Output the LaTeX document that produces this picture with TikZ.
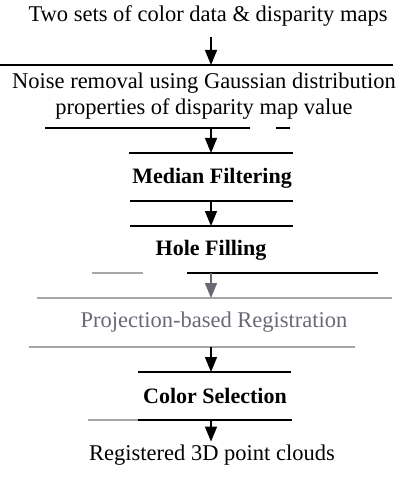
\documentclass[tikz,border=0pt]{standalone}
\usepackage{fontspec}
\setmainfont{Liberation Serif}
\usetikzlibrary{arrows.meta}
\definecolor{scangray}{RGB}{105,105,118}
\definecolor{palegray}{RGB}{165,165,170}
\tikzset{
  steptext/.style={font=\fontsize{22.5}{26}\selectfont, inner sep=0pt, align=center},
  boldtext/.style={steptext, font=\fontsize{22}{26}\selectfont\bfseries},
  rule/.style={line width=1.4pt},
  flow/.style={line width=1.4pt, -{Triangle[width=12pt,length=15pt]}},
}
\begin{document}
\begin{tikzpicture}[x=1pt,y=-1pt]
\useasboundingbox (0,0) rectangle (409,478);

% texts
\node[steptext] (input) at (208,16) {Two sets of color data \& disparity maps};
\node[steptext] (noise) at (204,96) {Noise removal using Gaussian distribution\\properties of disparity map value};
\node[boldtext] (median) at (212,178) {Median Filtering};
\node[boldtext] (hole) at (211,250) {Hole Filling};
\node[steptext,text=scangray] (proj) at (214,322) {Projection-based Registration};
\node[boldtext] (color) at (215,396) {Color Selection};
\node[steptext] (output) at (212,455) {Registered 3D point clouds};

% top and bottom rules of the steps
\coordinate (noiseT) at (211,65);
\coordinate (noiseB) at (211,128);
\coordinate (medianT) at (211,153);
\coordinate (medianB) at (211,201);
\coordinate (holeT) at (211,226);
\coordinate (holeB) at (211,273);
\coordinate (projT) at (211,298);
\coordinate (projB) at (211,347);
\coordinate (colorT) at (211,372);
\coordinate (colorB) at (211,420);

\draw[rule] (0,65) -- (393,65);
\draw[rule] (45,128) -- (250,128);
\draw[rule] (276,128) -- (290,128);
\draw[rule] (129,153) -- (293,153);
\draw[rule] (130,201) -- (293,201);
\draw[rule] (130,226) -- (293,226);
\draw[rule,palegray] (92,273) -- (143,273);
\draw[rule] (187,273) -- (378,273);
\draw[rule,palegray] (37,298) -- (392,298);
\draw[rule,palegray] (29,347) -- (355,347);
\draw[rule] (138,372) -- (291,372);
\draw[rule,palegray] (88,420) -- (138,420);
\draw[rule] (138,420) -- (292,420);

% arrows
\draw[flow] ([yshift=-10pt]input.south -| noiseT) -- (noiseT);
\draw[flow] (noiseB) -- (medianT);
\draw[flow] (medianB) -- (holeT);
\draw[flow,scangray] (holeB) -- (projT);
\draw[flow] (projB) -- (colorT);
\draw[flow] (colorB) -- ([yshift=3pt]output.north -| colorB);
\end{tikzpicture}
\end{document}
